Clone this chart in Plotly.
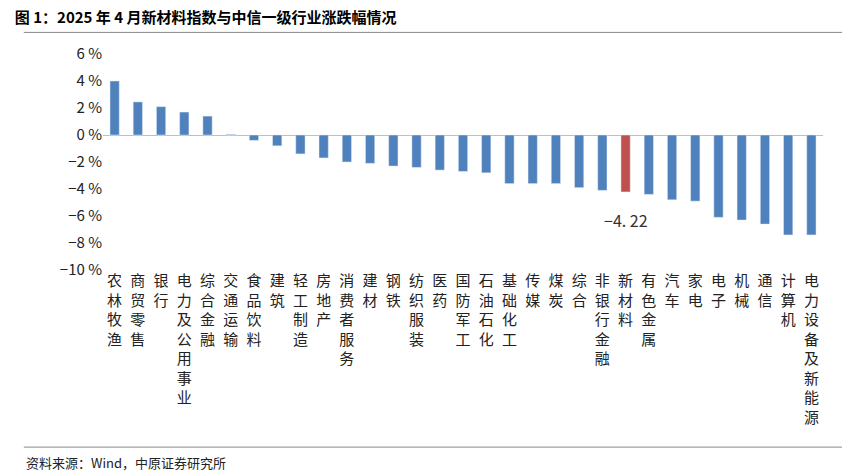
import plotly.graph_objects as go

categories = ["农林牧渔","商贸零售","银行","电力及公用事业","综合金融","交通运输","食品饮料","建筑","轻工制造","房地产","消费者服务","建材","钢铁","纺织服装","医药","国防军工","石油石化","基础化工","传媒","煤炭","综合","非银行金融","新材料","有色金属","汽车","家电","电子","机械","通信","计算机","电力设备及新能源"]
values = [4.0,2.45,2.1,1.7,1.4,0.05,-0.4,-0.8,-1.4,-1.7,-2.0,-2.1,-2.3,-2.4,-2.6,-2.7,-2.8,-3.6,-3.6,-3.6,-3.9,-4.1,-4.22,-4.4,-4.8,-4.9,-6.1,-6.3,-6.6,-7.4,-7.4]
highlight = "新材料"
tick_vals = [6,4,2,0,-2,-4,-6,-8,-10]
tick_text = ["6 %","4 %","2 %","0 %","−2 %","−4 %","−6 %","−8 %","−10 %"]

colors = ["#C0504D" if c == highlight else "#4F81BD" for c in categories]
labels = ["<br>".join(list(c)) for c in categories]
font = "Noto Sans CJK SC"

fig = go.Figure(go.Bar(x=labels, y=values, marker_color=colors, width=0.4))
hi = categories.index(highlight)
fig.add_annotation(x=labels[hi], y=values[hi], text="−4. 22", showarrow=False,
                   yshift=-28, font=dict(size=16, color="#333", family=font))
fig.update_layout(
    width=850, height=471, plot_bgcolor="white", paper_bgcolor="white",
    margin=dict(l=95, r=35, t=46, b=209, autoexpand=False), showlegend=False, bargap=0.5,
    font=dict(family=font, size=15, color="#222"),
    title=dict(text="<b>图 1：2025 年 4 月新材料指数与中信一级行业涨跌幅情况</b>", x=0.008, y=0.99,
               xanchor="left", yanchor="top", font=dict(size=15, color="#000")),
    xaxis=dict(tickfont=dict(size=15), showline=False, ticks="", tickangle=0, automargin=False),
    yaxis=dict(range=[-10, 6], tickvals=tick_vals, ticktext=tick_text, showgrid=False, automargin=False,
               zeroline=True, zerolinecolor="#bfbfbf", zerolinewidth=1, tickfont=dict(size=15)),
)
fig.add_shape(type="line", xref="paper", yref="paper", x0=-0.11, x1=1.04, y0=1.1, y1=1.1,
              line=dict(color="#888", width=1))
fig.add_shape(type="line", xref="paper", yref="paper", x0=-0.11, x1=1.04, y0=-0.82, y1=-0.82,
              line=dict(color="#888", width=1))
fig.add_annotation(xref="paper", yref="paper", x=-0.11, y=-0.84, xanchor="left", yanchor="top",
                   text="资料来源：Wind，中原证券研究所", showarrow=False, font=dict(size=13, color="#222"))
fig.write_html("out.html")
